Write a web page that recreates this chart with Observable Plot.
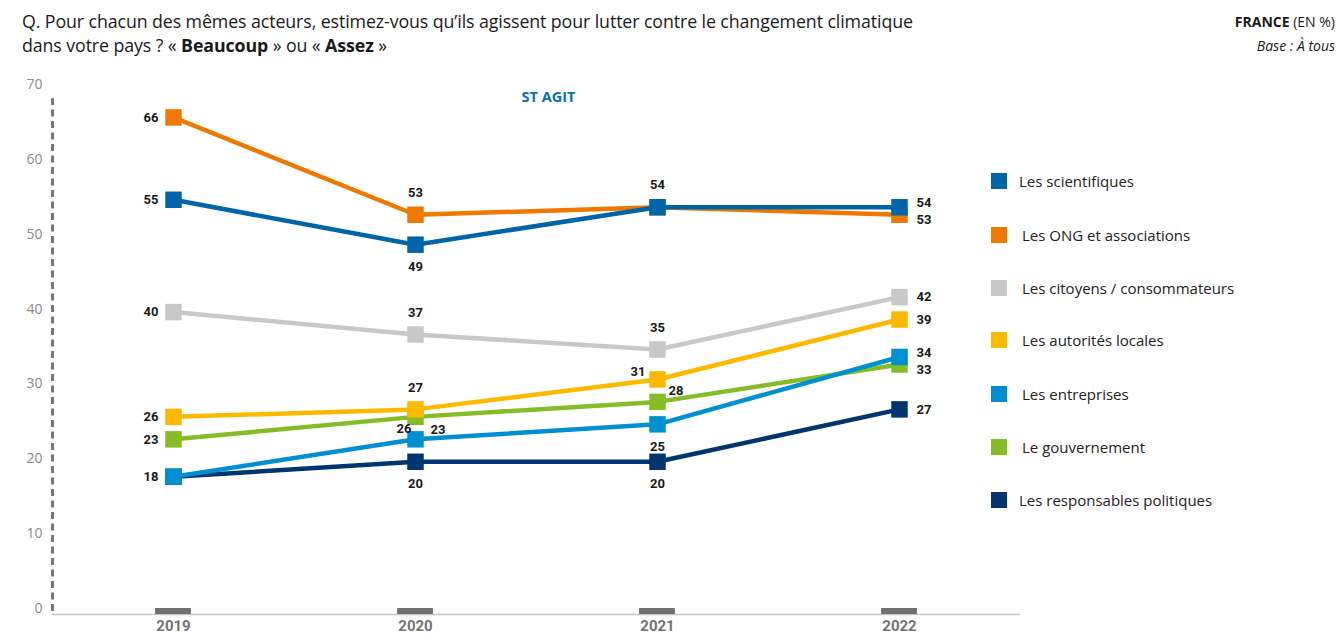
<!DOCTYPE html>
<html><head><meta charset="utf-8">
<script src="https://cdn.jsdelivr.net/npm/d3@7"></script>
<script src="https://cdn.jsdelivr.net/npm/@observablehq/plot@0.6"></script>
<style>
body{margin:0;background:#fff;font-family:"Open Sans",sans-serif;}
#wrap{position:relative;width:1339px;height:635px;}
#title{position:absolute;left:22px;top:9px;font-size:17.8px;line-height:24px;color:#1a1a1a;letter-spacing:-0.1px;}
#src{position:absolute;right:4px;top:10px;text-align:right;font-size:14px;line-height:24px;color:#1a1a1a;}
#legend{position:absolute;left:991px;top:0;}
.li{position:absolute;white-space:nowrap;font-size:15px;color:#222;}
.sw{position:absolute;width:16px;height:16px;}
</style></head><body>
<div id="wrap">
<div id="title">Q. Pour chacun des mêmes acteurs, estimez-vous qu’ils agissent pour lutter contre le changement climatique<br>dans votre pays ? « <b>Beaucoup</b> » ou « <b>Assez</b> »</div>
<div id="src"><b>FRANCE</b> (EN %)<br><i>Base : À tous</i></div>
<div id="chart"></div>
<div id="legend"></div>
</div>
<script>
const years = [2019, 2020, 2021, 2022];
const seriesNames = ["Les scientifiques","Les ONG et associations","Les citoyens / consommateurs","Les autorités locales","Les entreprises","Le gouvernement","Les responsables politiques"];
const scientifiques = [55, 49, 54, 54];
const ong = [66, 53, 54, 53];
const citoyens = [40, 37, 35, 42];
const autorites = [26, 27, 31, 39];
const entreprises = [18, 23, 25, 34];
const gouvernement = [23, 26, 28, 33];
const politiques = [18, 20, 20, 27];
const seriesValues = [scientifiques, ong, citoyens, autorites, entreprises, gouvernement, politiques];
const colors = ["#0064a8","#ef7800","#c8c8c8","#fcb900","#0090d2","#86bc25","#00356f"];
const yTicks = [0,10,20,30,40,50,60,70];
const panelTitle = "ST AGIT";
// label placement per series / year
const labelPos = [
  ["left","bottom","top","rightUp"],
  ["left","top","none","rightDown"],
  ["left","top","top","right"],
  ["left","top","topLeft","right"],
  ["left","upRight","bottom","rightUp"],
  ["left","leftDown","upRight2","rightDown"],
  ["none","bottom","bottom","right"]
];

const rows = [];
seriesNames.forEach((s, si) => years.forEach((y, yi) => rows.push({series: s, si, year: y, value: seriesValues[si][yi], pos: labelPos[si][yi]})));

const font = "Lato, 'Open Sans', sans-serif";
const marks = [
  Plot.ruleY([0], {stroke: "#c4c4c4", strokeWidth: 1.5, dy: 3}),
  Plot.ruleX([2018.5], {y1: 0, y2: 68.5, stroke: "#777", strokeWidth: 3, strokeDasharray: "7,4.5"}),
  Plot.rect(years, {x1: d => d - 0.074, x2: d => d + 0.074, y1: 0, y2: 0.8, fill: "#6f6f6f", dy: 3}),
  Plot.axisY({ticks: yTicks, tickSize: 0, tickPadding: 10, dy: -3, fill: "#8a8a8a", fontSize: 14, label: null, fontFamily: "'Open Sans', sans-serif"}),
  Plot.axisX({ticks: years, tickFormat: d => String(d), tickSize: 0, tickPadding: 9, fill: "#737373", fontSize: 15, fontWeight: "bold", label: null, fontFamily: "Roboto, sans-serif"}),
  Plot.text([panelTitle], {frameAnchor: "top", dx: 12, dy: 4, fill: "#0a6fb4", fontWeight: "bold", fontSize: 14.5, fontFamily: "'Open Sans', sans-serif"})
];
for (let si = seriesNames.length - 1; si >= 0; si--) {
  const d = rows.filter(r => r.si === si);
  marks.push(Plot.line(d, {x: "year", y: "value", stroke: colors[si], strokeWidth: 4.5}));
  marks.push(Plot.dot(d, {x: "year", y: "value", symbol: "square", r: 9.3, fill: colors[si], stroke: "none"}));
}
const posOpts = {
  left: {textAnchor: "end", dx: -15, dy: 0},
  right: {textAnchor: "start", dx: 17, dy: 0},
  rightUp: {textAnchor: "start", dx: 17, dy: -4},
  rightDown: {textAnchor: "start", dx: 17, dy: 5},
  upRight: {textAnchor: "start", dx: 15, dy: -10},
  upRight2: {textAnchor: "start", dx: 11, dy: -11},
  top: {textAnchor: "middle", dx: 0, dy: -22},
  bottom: {textAnchor: "middle", dx: 0, dy: 22},
  topLeft: {textAnchor: "end", dx: -12, dy: -8},
  leftDown: {textAnchor: "end", dx: -4, dy: 12}
};
for (const [p, o] of Object.entries(posOpts)) {
  marks.push(Plot.text(rows.filter(r => r.pos === p), {x: "year", y: "value", text: d => String(d.value), ...o, fill: "#1a1a1a", fontWeight: "bold", fontSize: 13, fontFamily: "Roboto, sans-serif"}));
}
const chart = Plot.plot({
  width: 1339, height: 635,
  marginTop: 87, marginBottom: 24, marginLeft: 52, marginRight: 319,
  x: {domain: [2018.5, 2022.5]},
  y: {domain: [0, 70]},
  style: {fontFamily: font, background: "white"},
  marks
});
document.getElementById("chart").appendChild(chart);

const leg = document.getElementById("legend");
const legTops = [182, 236, 289, 341, 395, 448, 501];
seriesNames.forEach((s, i) => {
  const sw = document.createElement("div");
  sw.className = "sw"; sw.style.background = colors[i];
  sw.style.left = "0px"; sw.style.top = (legTops[i] - 9) + "px";
  leg.appendChild(sw);
  const t = document.createElement("div");
  t.className = "li"; t.textContent = s;
  t.style.left = ((i === 0 || i === 6) ? 28 : 31) + "px"; t.style.top = (legTops[i] - 11) + "px";
  leg.appendChild(t);
});
</script>
</body></html>
